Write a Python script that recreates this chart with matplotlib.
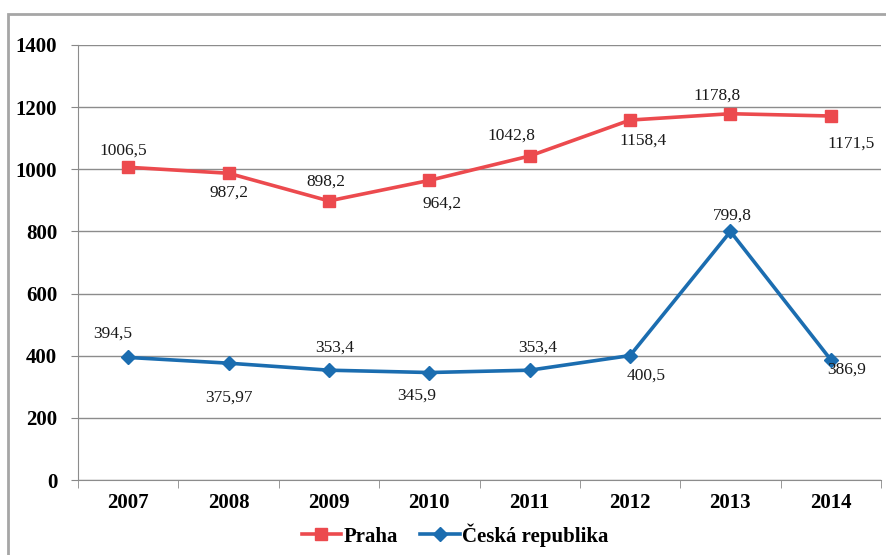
import matplotlib
matplotlib.use('Agg')
import matplotlib.pyplot as plt
from matplotlib.patches import Rectangle
from matplotlib.ticker import FixedLocator, NullFormatter

years = ['2007', '2008', '2009', '2010', '2011', '2012', '2013', '2014']
praha = [1006.5, 987.2, 898.2, 964.2, 1042.8, 1158.4, 1178.8, 1171.5]
cr = [394.5, 375.97, 353.4, 345.9, 353.4, 400.5, 799.8, 386.9]
praha_labels = ['1006,5', '987,2', '898,2', '964,2', '1042,8', '1158,4',
                '1178,8', '1171,5']
cr_labels = ['394,5', '375,97', '353,4', '345,9', '353,4', '400,5', '799,8',
             '386,9']

# label offsets in pixels (dx, dy), as placed in the original
praha_off = [(-5, 17), (0, -19), (-3, 19), (13, -23), (-18, 20), (13, -21),
             (-13, 18), (20, -28)]
cr_off = [(-15, 24), (0, -34), (6, 23), (-13, -23), (8, 23), (16, -20),
          (2, 16), (16, -10)]

RED = '#ec4a4e'
BLUE = '#1b6db0'
SERIF = ['Liberation Serif', 'DejaVu Serif']

plt.rcParams['font.family'] = SERIF

fig = plt.figure(figsize=(8.86, 5.55), dpi=100)
ax = fig.add_axes([78 / 886, 1 - 480 / 555, 803 / 886, 435 / 555])

# outer chart border
fig.patches.append(Rectangle((8 / 886, -0.01), 1.0, 1 - 14 / 555 + 0.01,
                             transform=fig.transFigure, fill=False,
                             edgecolor='#a6a6a6', linewidth=2.0))

x = list(range(len(years)))
ax.plot(x, praha, color=RED, linewidth=2.6, marker='s', markersize=8,
        label='Praha', zorder=3)
ax.plot(x, cr, color=BLUE, linewidth=2.6, marker='D', markersize=7,
        label='Česká republika', zorder=3)

for i in x:
    ax.annotate(praha_labels[i], (i, praha[i]), xytext=praha_off[i],
                textcoords='offset pixels', ha='center', va='center',
                fontsize=12.5, color='#1a1a1a')
    ax.annotate(cr_labels[i], (i, cr[i]), xytext=cr_off[i],
                textcoords='offset pixels', ha='center', va='center',
                fontsize=12.5, color='#1a1a1a')

ax.set_xlim(-0.5, len(years) - 0.5)
ax.set_ylim(0, 1400)
ax.set_yticks(range(0, 1401, 200))
ax.set_xticks(x)
ax.set_xticklabels(years)
ax.xaxis.set_minor_locator(FixedLocator([i - 0.5 for i in range(len(years) + 1)]))
ax.xaxis.set_minor_formatter(NullFormatter())
ax.tick_params(axis='x', which='major', length=0, pad=9)
ax.tick_params(axis='x', which='minor', length=6, color='#888888')
ax.tick_params(axis='y', length=5, color='#888888', pad=10)
for lab in ax.get_xticklabels() + ax.get_yticklabels():
    lab.set_fontweight('bold')
    lab.set_fontsize(15)
ax.grid(axis='y', color='#8c8c8c', linewidth=1)
ax.set_axisbelow(True)
for side in ['top', 'right']:
    ax.spines[side].set_visible(False)
ax.spines['left'].set_color('#8c8c8c')
ax.spines['bottom'].set_color('#8c8c8c')

ax.legend(loc='center', bbox_to_anchor=(455 / 886, 1 - 535 / 555),
          bbox_transform=fig.transFigure, ncol=2, frameon=False,
          prop={'family': SERIF, 'weight': 'bold', 'size': 15},
          handlelength=1.9, handletextpad=0.1, columnspacing=1.1,
          borderpad=0.1)

fig.savefig('out.png', dpi=100)
